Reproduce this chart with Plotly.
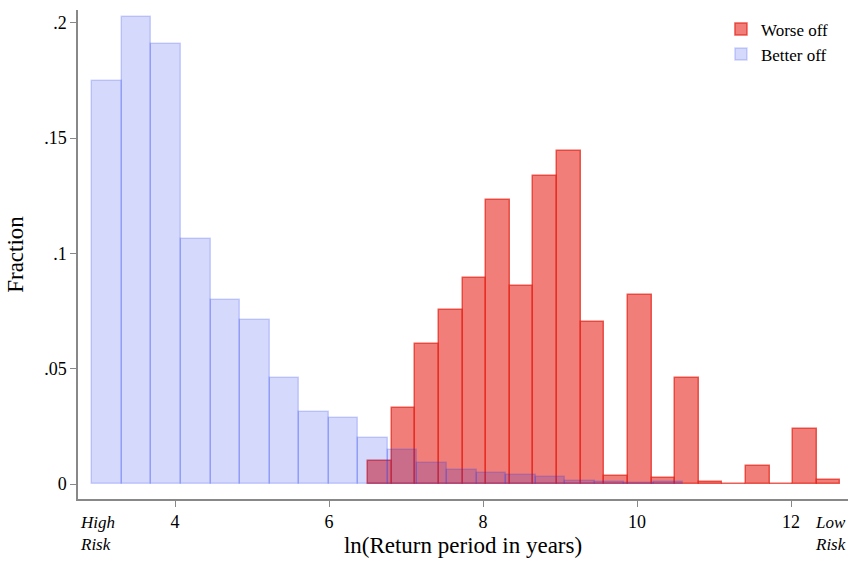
import plotly.graph_objects as go

# ---- data ----
worse_start = 6.51
worse_width = 0.3065
worse_frac = [0.0101, 0.0328, 0.0608, 0.0755, 0.0895, 0.1232, 0.0859, 0.1336,
              0.1445, 0.0704, 0.0035, 0.0821, 0.0026, 0.0461, 0.0007, 0.0,
              0.0079, 0.0, 0.0240, 0.0019]

better_start = 2.926
better_width = 0.3838
better_frac = [0.1748, 0.2024, 0.1908, 0.1064, 0.0798, 0.0711, 0.0458, 0.0312,
               0.0285, 0.0199, 0.0147, 0.0090, 0.0061, 0.0046, 0.0039, 0.0032,
               0.0012, 0.0010, 0.0005, 0.0010]

x_ticks = [4, 6, 8, 10, 12]
y_ticks = [0, 0.05, 0.1, 0.15, 0.2]
y_ticktext = ["0", ".05", ".1", ".15", ".2"]

worse_x = [worse_start + worse_width * (i + 0.5) for i in range(len(worse_frac))]
better_x = [better_start + better_width * (i + 0.5) for i in range(len(better_frac))]

SERIF = "Liberation Serif, Times New Roman, serif"

fig = go.Figure()
fig.add_trace(go.Bar(
    x=worse_x, y=worse_frac, width=worse_width, name="Worse off",
    marker=dict(color="rgba(232,40,30,0.6)",
                line=dict(color="rgba(228,40,30,0.75)", width=1.5)),
))
fig.add_trace(go.Bar(
    x=better_x, y=better_frac, width=better_width, name="Better off",
    marker=dict(color="rgba(8,32,237,0.17)",
                line=dict(color="rgba(26,55,241,0.2)", width=1.5)),
))

fig.update_layout(
    width=854, height=563,
    barmode="overlay", bargap=0,
    plot_bgcolor="white", paper_bgcolor="white",
    margin=dict(l=78, r=6, t=10, b=64),
    font=dict(family=SERIF, color="black", size=18),
    legend=dict(x=0.835, y=0.997, xanchor="left", yanchor="top",
                font=dict(family=SERIF, size=17), bgcolor="rgba(0,0,0,0)",
                itemwidth=30, tracegroupgap=2),
    xaxis=dict(range=[2.74, 12.74], tickvals=x_ticks, showgrid=False,
               zeroline=False, showline=True, linecolor="#888", linewidth=1.5,
               ticks="outside", ticklen=6, tickcolor="#888",
               title=dict(text="ln(Return period in years)",
                          font=dict(size=23), standoff=6)),
    yaxis=dict(range=[-0.0065, 0.2055], tickvals=y_ticks, ticktext=y_ticktext,
               showgrid=False, zeroline=False, showline=True, linecolor="#888",
               linewidth=1.5, ticks="outside", ticklen=6, tickcolor="#888",
               title=dict(text="Fraction", font=dict(size=23), standoff=14)),
)

fig.add_annotation(text="<i>High<br>Risk</i>", xref="paper", yref="paper",
                   x=0.0, y=-0.025, xanchor="left", yanchor="top",
                   showarrow=False, align="left",
                   font=dict(family=SERIF, size=17))
fig.add_annotation(text="<i>Low<br>Risk</i>", xref="paper", yref="paper",
                   x=1.0, y=-0.025, xanchor="right", yanchor="top",
                   showarrow=False, align="left",
                   font=dict(family=SERIF, size=17))

fig.write_html("out.html")
